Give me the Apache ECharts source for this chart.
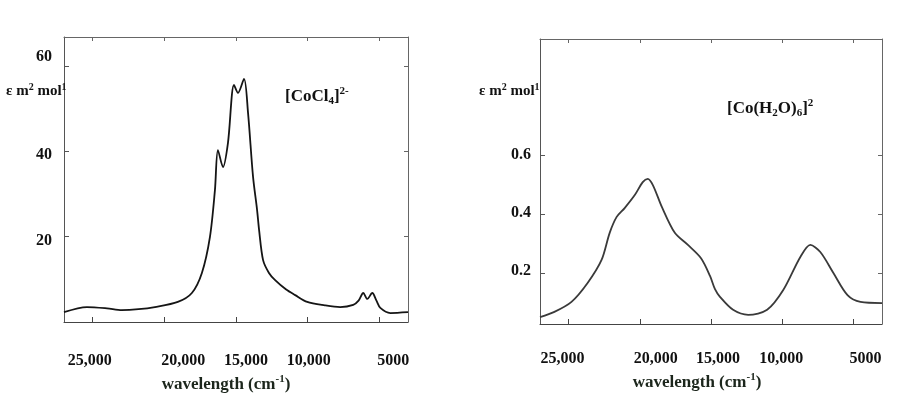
<!DOCTYPE html>
<html><head><meta charset="utf-8">
<script src="https://cdn.jsdelivr.net/npm/echarts@6/dist/echarts.min.js"></script>
<style>html,body{margin:0;padding:0;background:#fff}#c{width:900px;height:400px}</style>
</head><body><div id="c"></div>
<script>
// ---------- data ----------
const xTickValues = [25000, 20000, 15000, 10000, 5000];
const xTickLabels = ['25,000', '20,000', '15,000', '10,000', '5000'];

const cocl4Wavenumber = [27000, 25400, 24000, 22970, 21800, 20660, 19060, 18080, 17380, 16820, 16470, 16260, 15910, 15560, 15140, 14860, 14440, 14160, 13810, 13530, 13390, 13110, 12700, 12270, 11500, 10870, 10030, 8800, 7730, 6820, 6450, 6120, 5840, 5490, 5200, 4930, 4230, 3000];
const cocl4Epsilon    = [2.3, 3.5, 3.2, 2.8, 3.0, 3.5, 4.7, 6.8, 11.5, 19.9, 30.9, 40.3, 36.3, 42.0, 55.6, 53.7, 57.0, 49.0, 34.0, 26.3, 21.6, 14.5, 11.5, 9.8, 7.6, 6.3, 4.7, 3.9, 3.5, 4.0, 5.0, 6.8, 5.4, 6.8, 5.0, 3.3, 2.1, 2.3];
const cocl4YTicks = [20, 40, 60];

const aquaWavenumber = [27000, 25990, 24790, 23660, 22680, 22110, 21620, 21060, 20350, 19790, 19440, 19080, 18450, 17540, 16620, 15700, 15070, 14720, 14370, 13450, 12390, 11060, 9930, 8730, 8030, 7330, 6410, 5420, 4510, 3000];
const aquaEpsilon    = [0.05, 0.068, 0.102, 0.166, 0.244, 0.336, 0.39, 0.42, 0.464, 0.508, 0.519, 0.498, 0.424, 0.336, 0.295, 0.25, 0.19, 0.145, 0.119, 0.075, 0.058, 0.075, 0.142, 0.254, 0.295, 0.271, 0.2, 0.125, 0.102, 0.098];
const aquaYTicks = [0.2, 0.4, 0.6];

const yTickLabelsCocl4 = ['20', '40', '60'];
const yTickLabelsAqua = ['0.2', '0.4', '0.6'];

// ---------- styles ----------
const F = '"Liberation Serif", "Times New Roman", serif';
const INK = '#111';
const AX = '#444';

function zip(a, b) { return a.map((v, i) => [v, b[i]]); }

function xRich(offsets) {
  const r = {};
  offsets.forEach((d, i) => {
    r['t' + i] = { fontFamily: F, fontSize: 16, fontWeight: 'bold', color: INK,
      padding: d >= 0 ? [0, 0, 0, 2 * d] : [0, -2 * d, 0, 0] };
  });
  return r;
}
function yRich(offsets) {
  const r = {};
  offsets.forEach((d, i) => {
    r['t' + i] = { fontFamily: F, fontSize: 16, fontWeight: 'bold', color: INK,
      padding: d >= 0 ? [2 * d, 0, 0, 0] : [0, 0, -2 * d, 0] };
  });
  return r;
}
const nameRich = {
  w: { fontFamily: F, fontSize: 17, fontWeight: 'bold', color: '#1c261c' },
  s: { fontFamily: F, fontSize: 11, fontWeight: 'bold', color: '#1c261c', padding: [0, 0, 10, 0] }
};

function bottomX(gi, offsets, nameShift, nameGap, margin) {
  return {
    type: 'value', gridIndex: gi, position: 'bottom', inverse: true, min: 3000, max: 27000,
    axisLine: { show: true, onZero: false, lineStyle: { color: AX, width: 1 } },
    axisTick: { show: true, inside: true, length: 5, customValues: xTickValues, lineStyle: { color: AX } },
    axisLabel: { show: true, margin: margin, customValues: xTickValues,
      formatter: v => { const i = xTickValues.indexOf(v); return '{t' + i + '|' + xTickLabels[i] + '}'; },
      rich: xRich(offsets) },
    splitLine: { show: false },
    name: '{w|wavelength (cm}{s|-1}{w|)}', nameLocation: 'middle', nameGap: nameGap,
    nameTextStyle: { rich: nameRich, padding: nameShift >= 0 ? [0, 0, 0, 2 * nameShift] : [0, -2 * nameShift, 0, 0] }
  };
}
function topX(gi) {
  return {
    type: 'value', gridIndex: gi, position: 'top', inverse: true, min: 3000, max: 27000,
    axisLine: { show: true, onZero: false, lineStyle: { color: '#666', width: 1 } },
    axisTick: { show: true, inside: true, length: 4, customValues: xTickValues, lineStyle: { color: '#666' } },
    axisLabel: { show: false }, splitLine: { show: false }
  };
}
function leftY(gi, min, max, ticks, labels, offsets, margin) {
  return {
    type: 'value', gridIndex: gi, position: 'left', min: min, max: max,
    axisLine: { show: true, onZero: false, lineStyle: { color: '#555', width: 1 } },
    axisTick: { show: true, inside: true, length: 5, customValues: ticks, lineStyle: { color: '#555' } },
    axisLabel: { show: true, margin: margin, customValues: ticks,
      formatter: v => { const i = ticks.indexOf(v); return '{t' + i + '|' + labels[i] + '}'; },
      rich: yRich(offsets) },
    splitLine: { show: false }
  };
}
function rightY(gi, min, max, ticks) {
  return {
    type: 'value', gridIndex: gi, position: 'right', min: min, max: max,
    axisLine: { show: true, onZero: false, lineStyle: { color: '#666', width: 1 } },
    axisTick: { show: true, inside: true, length: 4, customValues: ticks, lineStyle: { color: '#666' } },
    axisLabel: { show: false }, splitLine: { show: false }
  };
}

const epsRich = {
  b: { fontFamily: F, fontSize: 15, fontWeight: 'bold', color: INK },
  s: { fontFamily: F, fontSize: 10, fontWeight: 'bold', color: INK, padding: [0, 0, 9, 0] }
};
const labRich = {
  b: { fontFamily: F, fontSize: 17, fontWeight: 'bold', color: INK },
  sub: { fontFamily: F, fontSize: 11, fontWeight: 'bold', color: INK, padding: [8, 0, 0, 0] },
  sup: { fontFamily: F, fontSize: 11, fontWeight: 'bold', color: INK, padding: [0, 0, 11, 0] }
};

const option = {
  backgroundColor: '#fff',
  animation: false,
  grid: [
    { left: 64, top: 37, width: 344, height: 285 },
    { left: 540, top: 39, width: 342, height: 285 }
  ],
  title: [
    { text: '{b|ε m}{s|2}{b| mol}{s|1}', left: 6, top: 82, padding: 0, textStyle: { rich: epsRich } },
    { text: '{b|ε m}{s|2}{b| mol}{s|1}', left: 479, top: 82, padding: 0, textStyle: { rich: epsRich } },
    { text: '{b|[CoCl}{sub|4}{b|]}{sup|2-}', left: 285, top: 86, padding: 0, textStyle: { rich: labRich } },
    { text: '{b|[Co(H}{sub|2}{b|O)}{sub|6}{b|]}{sup|2}', left: 727, top: 98, padding: 0, textStyle: { rich: labRich } }
  ],
  xAxis: [
    bottomX(0, [-3, 19, 10, 1, 14], -10, 50, 31),
    topX(0),
    bottomX(1, [-6, 16, 7, -1, 12], -14, 47, 27),
    topX(1)
  ],
  yAxis: [
    leftY(0, 0, 66.8, cocl4YTicks, yTickLabelsCocl4, [4, 4, -9], 12),
    rightY(0, 0, 66.8, cocl4YTicks),
    leftY(1, 0.027, 0.993, aquaYTicks, yTickLabelsAqua, [-2, -1, 0], 9),
    rightY(1, 0.027, 0.993, aquaYTicks)
  ],
  series: [
    { type: 'line', xAxisIndex: 0, yAxisIndex: 0, data: zip(cocl4Wavenumber, cocl4Epsilon),
      showSymbol: false, smooth: 0.3, lineStyle: { color: '#151515', width: 1.8 } },
    { type: 'line', xAxisIndex: 2, yAxisIndex: 2, data: zip(aquaWavenumber, aquaEpsilon),
      showSymbol: false, smooth: 0.3, lineStyle: { color: '#3a3a3a', width: 1.8 } }
  ]
};
const chart = echarts.init(document.getElementById('c'), null, { renderer: 'canvas' });
chart.setOption(option);
</script>
</body></html>
